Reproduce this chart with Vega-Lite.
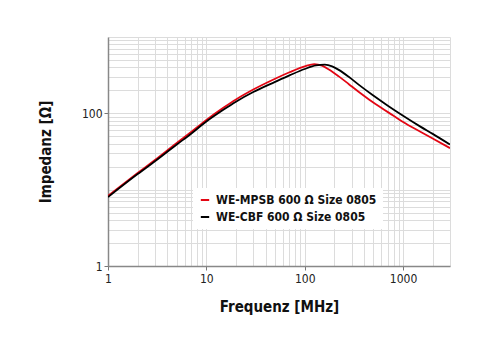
{
  "$schema": "https://vega.github.io/schema/vega-lite/v6.json",
  "width": 342,
  "height": 229,
  "autosize": {"type": "none"},
  "padding": {"left": 108, "top": 37, "right": 50, "bottom": 84},
  "background": "white",
  "config": {
    "view": {"stroke": null},
    "font": "DejaVu Sans Condensed, sans-serif"
  },
  "data": {
    "values": [
      {"s": "WE-MPSB 600 Ω Size 0805", "f": 1, "z": 8.3},
      {"s": "WE-MPSB 600 Ω Size 0805", "f": 2, "z": 16.5},
      {"s": "WE-MPSB 600 Ω Size 0805", "f": 3, "z": 24.5},
      {"s": "WE-MPSB 600 Ω Size 0805", "f": 5, "z": 41},
      {"s": "WE-MPSB 600 Ω Size 0805", "f": 7, "z": 57},
      {"s": "WE-MPSB 600 Ω Size 0805", "f": 10, "z": 82},
      {"s": "WE-MPSB 600 Ω Size 0805", "f": 15, "z": 119},
      {"s": "WE-MPSB 600 Ω Size 0805", "f": 20, "z": 152},
      {"s": "WE-MPSB 600 Ω Size 0805", "f": 30, "z": 205},
      {"s": "WE-MPSB 600 Ω Size 0805", "f": 50, "z": 284},
      {"s": "WE-MPSB 600 Ω Size 0805", "f": 70, "z": 345},
      {"s": "WE-MPSB 600 Ω Size 0805", "f": 100, "z": 413},
      {"s": "WE-MPSB 600 Ω Size 0805", "f": 125, "z": 442},
      {"s": "WE-MPSB 600 Ω Size 0805", "f": 150, "z": 421},
      {"s": "WE-MPSB 600 Ω Size 0805", "f": 176, "z": 376},
      {"s": "WE-MPSB 600 Ω Size 0805", "f": 222, "z": 305},
      {"s": "WE-MPSB 600 Ω Size 0805", "f": 281, "z": 241},
      {"s": "WE-MPSB 600 Ω Size 0805", "f": 350, "z": 193},
      {"s": "WE-MPSB 600 Ω Size 0805", "f": 450, "z": 152},
      {"s": "WE-MPSB 600 Ω Size 0805", "f": 600, "z": 118},
      {"s": "WE-MPSB 600 Ω Size 0805", "f": 800, "z": 93},
      {"s": "WE-MPSB 600 Ω Size 0805", "f": 1000, "z": 77},
      {"s": "WE-MPSB 600 Ω Size 0805", "f": 1500, "z": 57.4},
      {"s": "WE-MPSB 600 Ω Size 0805", "f": 2000, "z": 46.7},
      {"s": "WE-MPSB 600 Ω Size 0805", "f": 3000, "z": 35},
      {"s": "WE-CBF 600 Ω Size 0805", "f": 1, "z": 8.0},
      {"s": "WE-CBF 600 Ω Size 0805", "f": 2, "z": 16},
      {"s": "WE-CBF 600 Ω Size 0805", "f": 3, "z": 23.5},
      {"s": "WE-CBF 600 Ω Size 0805", "f": 5, "z": 39},
      {"s": "WE-CBF 600 Ω Size 0805", "f": 7, "z": 54},
      {"s": "WE-CBF 600 Ω Size 0805", "f": 10, "z": 78},
      {"s": "WE-CBF 600 Ω Size 0805", "f": 15, "z": 112},
      {"s": "WE-CBF 600 Ω Size 0805", "f": 20, "z": 142},
      {"s": "WE-CBF 600 Ω Size 0805", "f": 30, "z": 190},
      {"s": "WE-CBF 600 Ω Size 0805", "f": 50, "z": 258},
      {"s": "WE-CBF 600 Ω Size 0805", "f": 70, "z": 314},
      {"s": "WE-CBF 600 Ω Size 0805", "f": 100, "z": 381},
      {"s": "WE-CBF 600 Ω Size 0805", "f": 130, "z": 424},
      {"s": "WE-CBF 600 Ω Size 0805", "f": 160, "z": 434},
      {"s": "WE-CBF 600 Ω Size 0805", "f": 190, "z": 413},
      {"s": "WE-CBF 600 Ω Size 0805", "f": 222, "z": 371},
      {"s": "WE-CBF 600 Ω Size 0805", "f": 280, "z": 301},
      {"s": "WE-CBF 600 Ω Size 0805", "f": 356, "z": 236},
      {"s": "WE-CBF 600 Ω Size 0805", "f": 486, "z": 175},
      {"s": "WE-CBF 600 Ω Size 0805", "f": 700, "z": 126},
      {"s": "WE-CBF 600 Ω Size 0805", "f": 1000, "z": 93},
      {"s": "WE-CBF 600 Ω Size 0805", "f": 1500, "z": 67},
      {"s": "WE-CBF 600 Ω Size 0805", "f": 2000, "z": 53.8},
      {"s": "WE-CBF 600 Ω Size 0805", "f": 3000, "z": 39}
    ]
  },
  "mark": {"type": "line", "strokeWidth": 1.8, "interpolate": "monotone", "clip": true},
  "encoding": {
    "x": {
      "field": "f", "type": "quantitative",
      "scale": {"type": "log", "domain": [1, 3000], "nice": false},
      "axis": {
        "title": "Frequenz [MHz]",
        "values": [1,2,3,4,5,6,7,8,9,10,20,30,40,50,60,70,80,90,100,200,300,400,500,600,700,800,900,1000,2000,3000],
        "labelExpr": "(datum.value == 1 || datum.value == 10 || datum.value == 100 || datum.value == 1000) ? datum.value : ''",
        "tickOpacity": {"condition": {"test": "datum.value == 1 || datum.value == 10 || datum.value == 100 || datum.value == 1000", "value": 1}, "value": 0},
        "tickSize": 4,
        "tickColor": "#777",
        "domainColor": "#888",
        "domainWidth": 1.5,
        "gridColor": "#dcdcdc",
        "gridWidth": 1,
        "labelFontSize": 12,
        "labelColor": "#222",
        "labelPadding": 3,
        "labelFlush": false,
        "titleFontSize": 15,
        "titleFontWeight": "bold",
        "titleColor": "#111",
        "titlePadding": 15
      }
    },
    "y": {
      "field": "z", "type": "quantitative",
      "scale": {"type": "log", "domain": [1, 1000], "nice": false},
      "axis": {
        "title": "Impedanz [Ω]",
        "values": [1,2,3,4,5,6,7,8,9,10,20,30,40,50,60,70,80,90,100,200,300,400,500,600,700,800,900,1000],
        "labelExpr": "(datum.value == 1 || datum.value == 100) ? datum.value : ''",
        "tickOpacity": {"condition": {"test": "datum.value == 1 || datum.value == 100", "value": 1}, "value": 0},
        "tickSize": 4,
        "tickColor": "#777",
        "domainColor": "#888",
        "domainWidth": 1.5,
        "gridColor": "#dcdcdc",
        "gridWidth": 1,
        "labelFontSize": 12,
        "labelColor": "#222",
        "labelPadding": 2,
        "labelFlush": false,
        "titleFontSize": 15,
        "titleFontWeight": "bold",
        "titleColor": "#111",
        "titlePadding": 28
      }
    },
    "color": {
      "field": "s", "type": "nominal",
      "scale": {"domain": ["WE-MPSB 600 Ω Size 0805", "WE-CBF 600 Ω Size 0805"], "range": ["#e30613", "#000000"]},
      "legend": {
        "title": null,
        "orient": "none",
        "legendX": 85,
        "legendY": 151,
        "fillColor": "white",
        "padding": 6,
        "symbolType": "stroke",
        "symbolStrokeWidth": 2,
        "symbolSize": 70,
        "labelFontSize": 12,
        "labelFontWeight": "bold",
        "labelColor": "#111",
        "labelLimit": 0,
        "rowPadding": 5,
        "labelOffset": 5
      }
    }
  }
}
